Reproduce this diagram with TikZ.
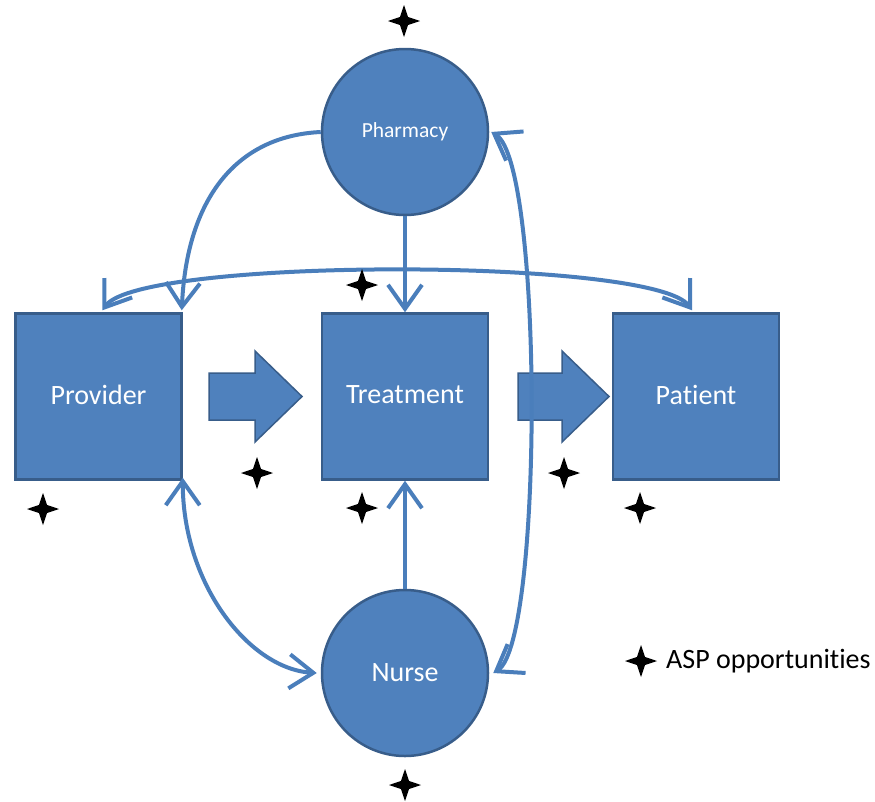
\documentclass[tikz,border=0pt]{standalone}
\usepackage{fontspec}
\setmainfont{Carlito}[Ligatures=NoCommon]
\usetikzlibrary{arrows.meta,shapes.geometric}
\definecolor{fillblue}{HTML}{4F81BD}
\definecolor{edgeblue}{HTML}{385D8A}
\definecolor{linkblue}{HTML}{4A7EBB}
\begin{document}
\begin{tikzpicture}[x=1pt,y=-1pt,
  box/.style={rectangle,draw=edgeblue,line width=2.5pt,fill=fillblue,
    minimum width=166pt,minimum height=166pt,inner sep=0pt,text=white,
    font=\fontsize{28}{30}\selectfont},
  disc/.style={circle,draw=edgeblue,line width=2.5pt,fill=fillblue,
    minimum size=166pt,inner sep=0pt,text=white},
  blockarrow/.style={draw=edgeblue,line width=1.5pt,fill=fillblue,line join=miter},
  link/.style={draw=linkblue,line width=4pt},
  >={Straight Barb[length=24pt,width=34pt]},
  aspstar/.style={star,star points=4,star point ratio=2.8,fill=black,
    minimum size=32pt,inner sep=0pt},
]
\fill[white] (0,0) rectangle (875,801);
\useasboundingbox (0,0) rectangle (875,801);

% main stations
\node[box] (prov)  at (98.5,396.5) {\raisebox{3pt}{Provider}};
\node[box] (treat) at (405,396.5)  {\raisebox{3pt}{Treatment}};
\node[box] (pat)   at (696,396.5)  {\raisebox{3pt}{Patient}};
\node[disc,font=\fontsize{21.5}{24}\selectfont] (pharm) at (405,132) {Pharmacy};
\node[disc,font=\fontsize{28}{30}\selectfont] (nurse) at (405,673) {Nurse};

% block arrows of the main flow
\draw[blockarrow] (209,373) -- (255,373) -- (255,351) -- (302,396.5)
  -- (255,442) -- (255,420) -- (209,420) -- cycle;
\draw[blockarrow] (518,373) -- (562,373) -- (562,351) -- (609,396.5)
  -- (562,442) -- (562,420) -- (518,420) -- cycle;

% connectors
\draw[link,->] (pharm.south) -- (treat.north);
\draw[link,->] (nurse.north) -- (treat.south);
\draw[link,->] (pharm.west) .. controls +(-85,4) and +(5,-111) .. ([shift={(-1,-2)}]prov.north east);
\draw[link,<->] ([shift={(4,-2)}]prov.north) .. controls +(37,-53) and +(-37,-53) .. ([shift={(-4,-2)}]pat.north);
\draw[link,<->] ([yshift=3pt]prov.south east) .. controls +(0,107) and +(-67,-4) .. ([xshift=-4pt]nurse.west);
\draw[link,<->] ([xshift=2pt]pharm.east) .. controls +(52,31) and +(50,-31) .. ([xshift=4pt]nurse.east);

% ASP opportunity markers
\node[aspstar] (s1) at (404,21) {};
\node[aspstar] (s2) at (362,285) {};
\node[aspstar] (s3) at (257,473) {};
\node[aspstar] (s4) at (564,473) {};
\node[aspstar] (s5) at (43,509) {};
\node[aspstar] (s6) at (362,508) {};
\node[aspstar] (s7) at (640,508) {};
\node[aspstar] (s8) at (405,785) {};

% legend
\node[aspstar] (legstar) at (641,661) {};
\node[anchor=west,inner sep=0pt,font=\fontsize{28}{30}\selectfont] (legtext) at (666,661) {ASP opportunities};
\end{tikzpicture}
\end{document}
